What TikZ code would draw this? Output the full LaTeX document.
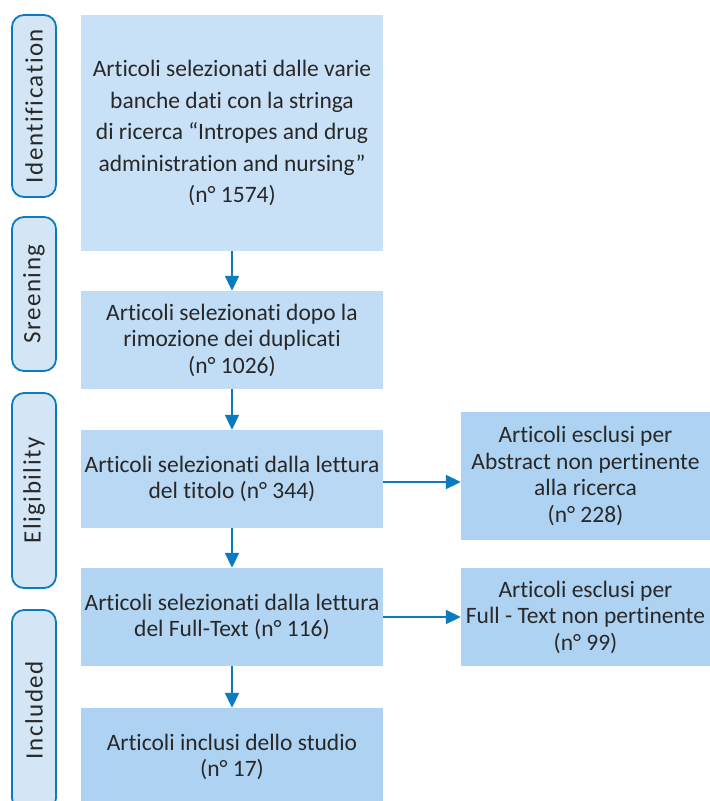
\documentclass[tikz,border=0pt]{standalone}
\usepackage{fontspec}
\setmainfont{Carlito}[RawFeature={-liga;-rlig;-clig;-dlig;-calt}]
\newfontfamily\lblfont[LetterSpace=6,RawFeature={-liga;-rlig;-clig;-dlig;-calt}]{Carlito}
\usepackage{tikz}
\usetikzlibrary{
    arrows.meta,
    positioning
}
\definecolor{flowblue}{RGB}{10,123,192}
\definecolor{txtgray}{RGB}{40,40,40}
\definecolor{phasefill}{RGB}{212,229,245}
\definecolor{boxA}{RGB}{201,225,246}
\definecolor{boxB}{RGB}{192,221,245}
\definecolor{boxC}{RGB}{184,216,243}
\definecolor{boxD}{RGB}{178,213,243}
\definecolor{boxE}{RGB}{174,211,242}

\begin{document}
\begin{tikzpicture}[
  x=1bp, y=-1bp,
  box/.style={
    inner sep=0pt, minimum width=302bp, minimum height=98bp,
    align=center, text=txtgray,
    font=\fontsize{23.5bp}{26.5bp}\selectfont},
  xbox/.style={
    box, fill=boxE, minimum width=249bp},
  phase/.style={
    draw=flowblue, line width=1.8bp, fill=phasefill,
    rounded corners=12bp, rotate=90, inner sep=0pt,
    minimum height=44bp, text=txtgray,
    font=\lblfont\fontsize{25bp}{30bp}\selectfont},
  arr/.style={-{Triangle[length=15bp, width=14bp]}, line width=1.8bp, flowblue}
]
\clip (0,0) rectangle (710,801);

%% phases
\node[phase, minimum width=182bp] (pid)  at (34,106)   {Identification};
\node[phase, minimum width=154bp] (pscr) at (34,294)   {Sreening};
\node[phase, minimum width=195bp] (peli) at (34,490.5) {Eligibility};
\node[phase, minimum width=200bp] (pinc) at (34,710)   {Included};

%% main column
\node[box, fill=boxA, minimum height=236bp,
      font=\fontsize{23.5bp}{31.5bp}\selectfont] (ide) at (232,133)
  {Articoli selezionati dalle varie\\banche dati con la stringa\\di ricerca ``Intropes and drug\\administration and nursing''\\(n° 1574)};
\node[box, fill=boxB] (scr) at (232,340) {Articoli selezionati dopo la\\rimozione dei duplicati\\(n° 1026)};
\node[box, fill=boxC] (eli) at (232,479) {Articoli selezionati dalla lettura\\del titolo (n° 344)};
\node[box, fill=boxD] (ful) at (232,617) {Articoli selezionati dalla lettura\\del Full-Text (n° 116)};
\node[box, fill=boxE] (inc) at (232,757) {Articoli inclusi dello studio\\(n° 17)};

%% excluded
\node[xbox, minimum height=128bp] (exa) at (585.5,476) {Articoli esclusi per\\Abstract non pertinente\\alla ricerca\\(n° 228)};
\node[xbox] (exb) at (585.5,617) {Articoli esclusi per\\Full - Text non pertinente\\(n° 99)};

\draw[arr] (ide) -- (scr);
\draw[arr] (scr) -- (eli);
\draw[arr] (eli) -- (ful);
\draw[arr] (ful) -- (inc);

\draw[arr] ([yshift=-3bp]eli.east) -- ([yshift=-3bp]eli.east -| exa.west);
\draw[arr] (ful.east) -- (exb.west);

\end{tikzpicture}
\end{document}
